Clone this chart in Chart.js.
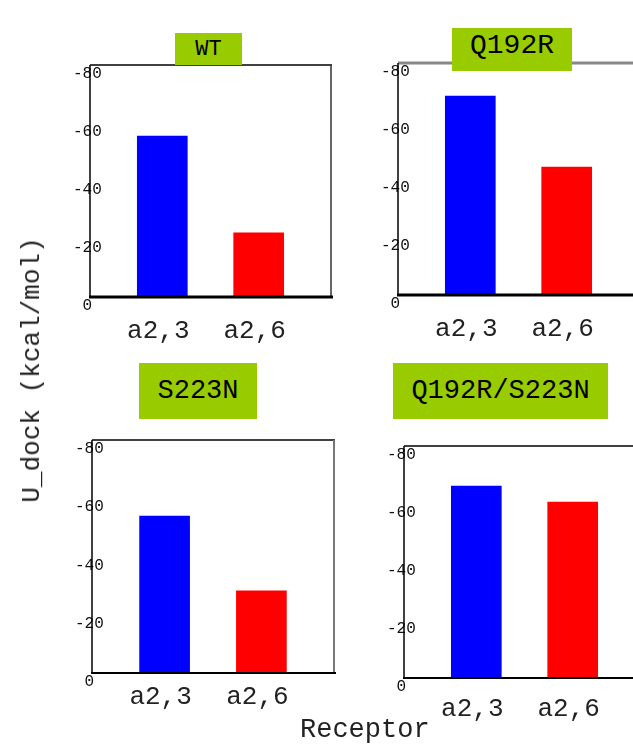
<!DOCTYPE html>
<html>
<head>
<meta charset="utf-8">
<script src="https://cdn.jsdelivr.net/npm/chart.js@4/dist/chart.umd.min.js"></script>
<style>
  html,body{margin:0;padding:0;background:#fff;overflow:hidden;}
  body{width:633px;height:745px;position:relative;font-family:"Liberation Mono",monospace;}
  canvas{position:absolute;}
  .ttl{position:absolute;background:#99CC00;color:#000;display:flex;justify-content:center;align-items:center;box-sizing:border-box;}
  .lbl{position:absolute;color:#222;white-space:nowrap;}
</style>
</head>
<body>
<div id="root"></div>
<div class="lbl" id="ytitle" style="font-size:26px;left:32px;top:370px;transform:translate(-50%,-50%) rotate(-90deg);">U_dock (kcal/mol)</div>
<div class="lbl" style="font-size:27px;left:300px;top:715px;line-height:30px;">Receptor</div>
<script>
// data
const receptors = ['a2,3', 'a2,6'];
const titles = ['WT', 'Q192R', 'S223N', 'Q192R/S223N'];
const wtDock = [-55.5, -22.1];
const q192rDock = [-68.6, -44.1];
const s223nDock = [-53.9, -28.2];
const doubleDock = [-66.2, -60.7];
const yTicks = [-80, -60, -40, -20, 0];
const barColors = ['#0000FF', '#FF0000'];

// panel layout: plot area edges, title box [l, t, r, b, fontSize, shift], x label gap
const panels = [
  { values: wtDock,     area:[90, 65, 331, 297],  box:[175, 33, 242, 65, 22, 0], gap: 19,
    frame:{ top:['#000',1.5], right:['#333',1.5], left:['#000',1.5], bottom:['#000',3] } },
  { values: q192rDock,  area:[398, 63, 639, 295], box:[452, 28, 572, 71, 28, 4], gap: 19,
    frame:{ top:['#888',3], left:['#000',1.5], bottom:['#000',3] } },
  { values: s223nDock,  area:[92, 440, 334, 673], box:[139, 363, 257, 419, 27, 0], gap: 9,
    frame:{ top:['#000',1.5], right:['#777',2], left:['#000',1.5], bottom:['#000',2] } },
  { values: doubleDock, area:[404, 446, 645, 678], box:[393, 363, 608, 419, 27, 0], gap: 16,
    frame:{ top:['#000',1.5], left:['#000',1.5], bottom:['#000',2] } }
];

const framePlugin = {
  id: 'frame',
  afterDatasetsDraw(chart, args, o) {
    const { ctx, chartArea: a } = chart;
    const line = (x1, y1, x2, y2, s) => {
      if (!s) return;
      ctx.save();
      ctx.strokeStyle = s[0]; ctx.lineWidth = s[1];
      ctx.beginPath(); ctx.moveTo(x1, y1); ctx.lineTo(x2, y2); ctx.stroke();
      ctx.restore();
    };
    line(a.left, a.top, a.right + 1, a.top, o.top);
    line(a.right, a.top, a.right, a.bottom, o.right);
    line(a.left, a.top, a.left, a.bottom, o.left);
    line(a.left - 1, a.bottom, a.right + 2, a.bottom, o.bottom);
  }
};

const PADL = 60, PADT = 20, PADR = 10, PADB = 55;
const root = document.getElementById('root');

panels.forEach((p, i) => {
  const [l, t, r, b] = p.area;
  const cv = document.createElement('canvas');
  cv.width = (r - l) + PADL + PADR;
  cv.height = (b - t) + PADT + PADB;
  cv.style.left = (l - PADL) + 'px';
  cv.style.top = (t - PADT) + 'px';
  root.appendChild(cv);

  const bx = p.box;
  const d = document.createElement('div');
  d.className = 'ttl';
  d.textContent = titles[i];
  d.style.left = bx[0] + 'px'; d.style.top = bx[1] + 'px';
  d.style.width = (bx[2] - bx[0]) + 'px'; d.style.height = (bx[3] - bx[1]) + 'px';
  d.style.fontSize = bx[4] + 'px';
  if (bx[5]) d.style.paddingBottom = (bx[5] * 2) + 'px';
  document.body.appendChild(d);

  new Chart(cv, {
    type: 'bar',
    data: {
      datasets: [{
        data: p.values.map((v, k) => ({ x: k + 1, y: v })),
        backgroundColor: barColors,
        borderWidth: 0,
        barThickness: 50
      }]
    },
    options: {
      responsive: false,
      animation: false,
      layout: { padding: { top: PADT, right: PADR, left: 0, bottom: 0 } },
      plugins: { legend: { display: false }, tooltip: { enabled: false }, frame: p.frame },
      scales: {
        x: {
          type: 'linear', min: 0.25, max: 2.75, offset: false,
          grid: { display: false, drawTicks: false, offset: false }, border: { display: false },
          afterBuildTicks: s => { s.ticks = receptors.map((_, k) => ({ value: k + 1 })); },
          afterFit: s => { s.height = PADB; },
          ticks: {
            color: '#222', padding: p.gap, labelOffset: -4,
            font: { family: 'Liberation Mono', size: 26 },
            callback: v => receptors[v - 1]
          }
        },
        y: {
          reverse: true, min: yTicks[0], max: yTicks[yTicks.length - 1],
          grid: { display: false, drawTicks: false }, border: { display: false },
          afterBuildTicks: s => { s.ticks = yTicks.map(v => ({ value: v })); },
          afterFit: s => { s.width = PADL; },
          ticks: {
            color: '#111', mirror: true, crossAlign: 'center', padding: -17, labelOffset: 9,
            font: { family: 'Liberation Mono', size: 16 }
          }
        }
      }
    },
    plugins: [framePlugin]
  });
});
</script>
</body>
</html>
